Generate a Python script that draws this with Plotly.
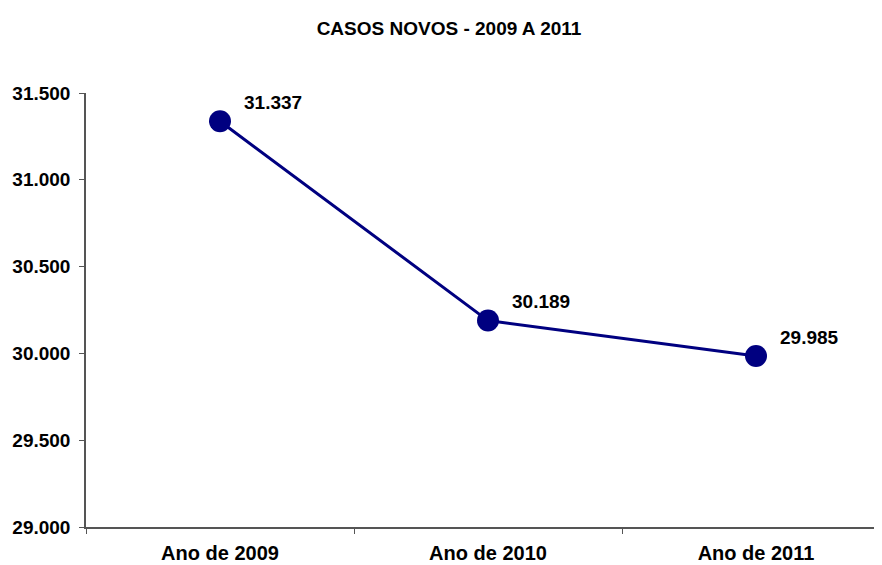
import plotly.graph_objects as go

# dados do gráfico
anos = ["Ano de 2009", "Ano de 2010", "Ano de 2011"]
casos_novos = [31337, 30189, 29985]
y_ticks = [29000, 29500, 30000, 30500, 31000, 31500]

fig = go.Figure(go.Scatter(
    x=anos, y=casos_novos, mode="lines+markers",
    line=dict(color="#000080", width=3),
    marker=dict(color="#000080", size=22),
    hoverinfo="skip",
))

# rótulos de dados (acima e à direita do ponto)
for a, v in zip(anos, casos_novos):
    fig.add_annotation(x=a, y=v, text="<b>" + f"{v:,}".replace(",", ".") + "</b>",
                       showarrow=False, xshift=53, yshift=19,
                       font=dict(size=19, color="#000000",
                                 family="Liberation Sans, Arial"))

# a página tem margem de 8px no body, por isso as margens estão descontadas
fig.update_layout(
    width=882, height=565,
    margin=dict(l=78, r=0, t=85, b=46),
    paper_bgcolor="white", plot_bgcolor="white",
    separators=",.",
    showlegend=False,
    font=dict(family="Liberation Sans, Arial", color="#000000"),
    title=dict(text="<b>CASOS NOVOS - 2009 A 2011</b>", x=0.5, xanchor="center",
               y=1 - 20 / 565, yanchor="middle", font=dict(size=19)),
)
fig.update_xaxes(
    type="category", range=[-0.5, 2.5], automargin=False,
    showline=True, linecolor="#555555", linewidth=1.5,
    ticks="outside", tickson="boundaries", ticklen=5, tickcolor="#555555",
    showgrid=False, zeroline=False,
    tickfont=dict(size=20, weight="bold"), ticklabelstandoff=7,
)
fig.update_yaxes(
    range=[29000, 31500], tickvals=y_ticks, tickformat=",.0f", automargin=False,
    showline=True, linecolor="#555555", linewidth=1.5,
    ticks="outside", ticklen=5, tickcolor="#555555",
    showgrid=False, zeroline=False,
    tickfont=dict(size=19, weight="bold"), ticklabelstandoff=5,
)

fig.write_html("out.html")
